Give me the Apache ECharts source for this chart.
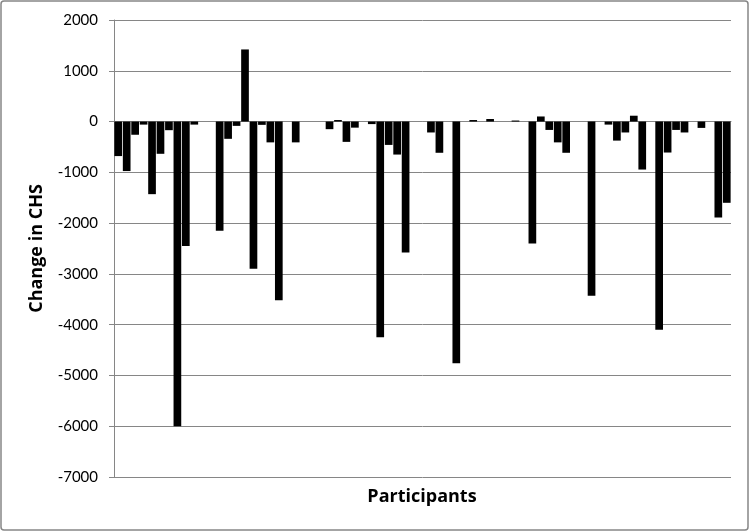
<!DOCTYPE html>
<html>
<head>
<meta charset="utf-8">
<script src="https://cdn.jsdelivr.net/npm/echarts@6/dist/echarts.min.js"></script>
<style>
  html, body { margin: 0; padding: 0; background: #fff; }
  #chart-container { width: 750px; height: 532px; }
</style>
</head>
<body>
<div id="chart-container"></div>
<script>
// change in CHS per participant (0 = no visible bar)
var chsChange = [
  -680, -975, -260, -60, -1430, -635, -170, -6000, -2450, -60,
  0, 0, -2150, -340, -85, 1420, -2900, -65, -410, -3520,
  0, -410, 0, 0, 0, -150, 30, -400, -120, 0,
  -50, -4250, -460, -650, -2580, 0, 0, -215, -615, 0,
  -4760, 0, 30, 0, 50, 0, 0, 20, 0, -2400,
  100, -165, -410, -615, 0, 0, -3430, 0, -60, -375,
  -215, 115, -945, 0, -4100, -610, -165, -215, 0, -125,
  0, -1890, -1600
];
var participants = chsChange.map(function (v, i) { return String(i + 1); });
var yMin = -7000;
var yMax = 2000;
var yStep = 1000;

var dom = document.getElementById("chart-container");
var myChart = echarts.init(dom, null, { renderer: "canvas" });

var font = "Lato, 'Open Sans', sans-serif";
var titleFont = "'Open Sans', sans-serif";

myChart.setOption({
  animation: false,
  grid: { left: 114, right: 19, top: 20, bottom: 55 },
  xAxis: {
    type: "category",
    data: participants,
    axisLine: { show: true, onZero: true, lineStyle: { color: "#868686", width: 1 } },
    axisTick: { show: false },
    axisLabel: { show: false },
    splitLine: { show: false }
  },
  yAxis: {
    type: "value",
    min: yMin,
    max: yMax,
    interval: yStep,
    name: "Change in CHS",
    nameLocation: "middle",
    nameRotate: 90,
    nameGap: 68,
    nameTextStyle: { fontFamily: titleFont, fontSize: 18, fontWeight: "bold", color: "#000" },
    axisLine: { show: true, lineStyle: { color: "#868686", width: 1 } },
    axisTick: { show: true, inside: false, length: 5, lineStyle: { color: "#868686" } },
    axisLabel: {
      fontFamily: font, fontSize: 15, color: "#000", margin: 16,
      formatter: function (v) { return String(v); }
    },
    splitLine: { show: true, lineStyle: { color: "#868686", width: 1 } }
  },
  series: [{
    type: "bar",
    data: chsChange,
    barCategoryGap: "9%",
    itemStyle: { color: "#000" }
  }],
  graphic: [
    {
      type: "rect",
      shape: { x: 1, y: 1, width: 747, height: 529, r: 3 },
      style: { fill: "none", stroke: "#868686", lineWidth: 1.5 },
      silent: true
    },
    {
      type: "text",
      x: 422,
      y: 497,
      style: {
        text: "Participants",
        fontFamily: titleFont,
        fontSize: 18,
        fontWeight: "bold",
        fill: "#000",
        textAlign: "center",
        textVerticalAlign: "middle"
      }
    }
  ]
});
</script>
</body>
</html>
